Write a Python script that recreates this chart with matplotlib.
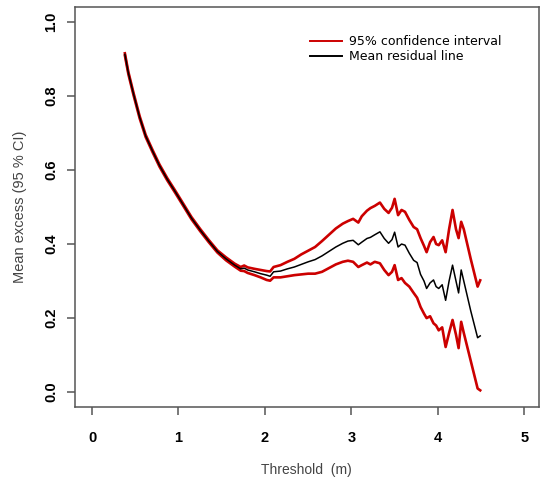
import matplotlib.pyplot as plt

# threshold grid (m)
threshold = [0.38, 0.42, 0.48, 0.55, 0.62, 0.70, 0.78, 0.87, 0.96, 1.05,
             1.15, 1.25, 1.35, 1.45, 1.55, 1.65, 1.72, 1.76, 1.80, 1.88,
             1.95, 2.02, 2.06, 2.10, 2.18, 2.26, 2.34, 2.42, 2.50, 2.58,
             2.66, 2.74, 2.82, 2.90, 2.96, 3.02, 3.08, 3.12, 3.18, 3.22,
             3.27, 3.33, 3.38, 3.43, 3.47, 3.50, 3.54, 3.58, 3.62, 3.67,
             3.72, 3.76, 3.80, 3.84, 3.87, 3.91, 3.95, 3.98, 4.01, 4.05,
             4.09, 4.13, 4.17, 4.21, 4.24, 4.27, 4.30, 4.38, 4.46, 4.49]

mean_excess = [0.912, 0.862, 0.805, 0.743, 0.692, 0.651, 0.612, 0.575, 0.542, 0.508,
               0.470, 0.438, 0.408, 0.380, 0.360, 0.343, 0.333, 0.335, 0.330, 0.325,
               0.320, 0.316, 0.313, 0.325, 0.327, 0.333, 0.338, 0.345, 0.352, 0.358,
               0.368, 0.380, 0.392, 0.402, 0.408, 0.410, 0.398, 0.405, 0.415, 0.418,
               0.425, 0.433, 0.415, 0.402, 0.412, 0.432, 0.392, 0.400, 0.397, 0.375,
               0.356, 0.350, 0.318, 0.300, 0.280, 0.295, 0.303, 0.285, 0.280, 0.290,
               0.248, 0.300, 0.343, 0.300, 0.268, 0.330, 0.300, 0.220, 0.147, 0.152]

ci_upper = [0.915, 0.865, 0.808, 0.746, 0.695, 0.654, 0.615, 0.578, 0.545, 0.511,
            0.473, 0.441, 0.411, 0.383, 0.364, 0.347, 0.338, 0.342, 0.337, 0.333,
            0.330, 0.327, 0.326, 0.338, 0.343, 0.352, 0.360, 0.372, 0.382, 0.392,
            0.408, 0.425, 0.442, 0.455, 0.462, 0.468, 0.458, 0.475, 0.490, 0.497,
            0.503, 0.512, 0.495, 0.484, 0.498, 0.522, 0.478, 0.492, 0.487, 0.465,
            0.446, 0.440, 0.416, 0.395, 0.378, 0.405, 0.419, 0.400, 0.397, 0.410,
            0.378, 0.440, 0.492, 0.440, 0.416, 0.460, 0.440, 0.360, 0.285, 0.302]

ci_lower = [0.909, 0.859, 0.802, 0.740, 0.689, 0.648, 0.609, 0.572, 0.539, 0.505,
            0.467, 0.435, 0.405, 0.377, 0.356, 0.339, 0.328, 0.327, 0.322, 0.316,
            0.310, 0.303, 0.301, 0.310, 0.310, 0.313, 0.316, 0.318, 0.320, 0.320,
            0.325, 0.335, 0.345, 0.352, 0.355, 0.352, 0.338, 0.343, 0.350, 0.345,
            0.352, 0.348, 0.330, 0.316, 0.325, 0.343, 0.303, 0.308, 0.295, 0.285,
            0.268, 0.255, 0.230, 0.212, 0.200, 0.205, 0.186, 0.180, 0.167, 0.175,
            0.122, 0.160, 0.195, 0.155, 0.119, 0.190, 0.160, 0.085, 0.010, 0.005]

fig = plt.figure(figsize=(5.4, 4.83), dpi=100)
ax = fig.add_axes([75/540, 1 - 407/483, 464/540, 400/483])

red = '#cc0000'
ax.plot(threshold, ci_upper, color=red, lw=1.9, label='95% confidence interval')
ax.plot(threshold, ci_lower, color=red, lw=1.9)
ax.plot(threshold, mean_excess, color='black', lw=1.1, label='Mean residual line')

ax.set_xlim(-0.197, 5.17)
ax.set_ylim(-0.04, 1.04)
ax.set_xticks([0, 1, 2, 3, 4, 5])
ax.set_yticks([0.0, 0.2, 0.4, 0.6, 0.8, 1.0])
ax.set_yticklabels(['0.0', '0.2', '0.4', '0.6', '0.8', '1.0'])

for s in ax.spines.values():
    s.set_color('#555555')
    s.set_linewidth(1.1)

ax.tick_params(axis='both', direction='out', length=6, width=1.1, color='#555555')
ax.tick_params(axis='x', pad=11)
ax.tick_params(axis='y', pad=6)
for lab in ax.get_xticklabels() + ax.get_yticklabels():
    lab.set_fontfamily('Liberation Sans')
    lab.set_fontweight('bold')
    lab.set_fontsize(10.5)
for lab in ax.get_yticklabels():
    lab.set_rotation(90)
    lab.set_va('center')

ax.set_xlabel('Threshold  (m)', fontfamily='Liberation Sans', fontsize=10, color='#444444')
ax.set_ylabel('Mean excess (95 % CI)', fontfamily='Liberation Sans', fontsize=10.5, color='#444444')
ax.xaxis.set_label_coords(0.498, -0.157)
ax.xaxis.label.set_va('center')
ax.yaxis.set_label_coords(-0.1185, 0.5)
ax.yaxis.label.set_va('center')

leg = ax.legend(loc='upper left', bbox_to_anchor=(0.506, 0.93), frameon=False,
                borderpad=0, borderaxespad=0, handlelength=2.6, handletextpad=0.5,
                labelspacing=0.15, prop={'family': 'DejaVu Sans', 'size': 9})
for h in leg.get_lines():
    h.set_linewidth(1.4)

plt.savefig('out.png', dpi=100)
